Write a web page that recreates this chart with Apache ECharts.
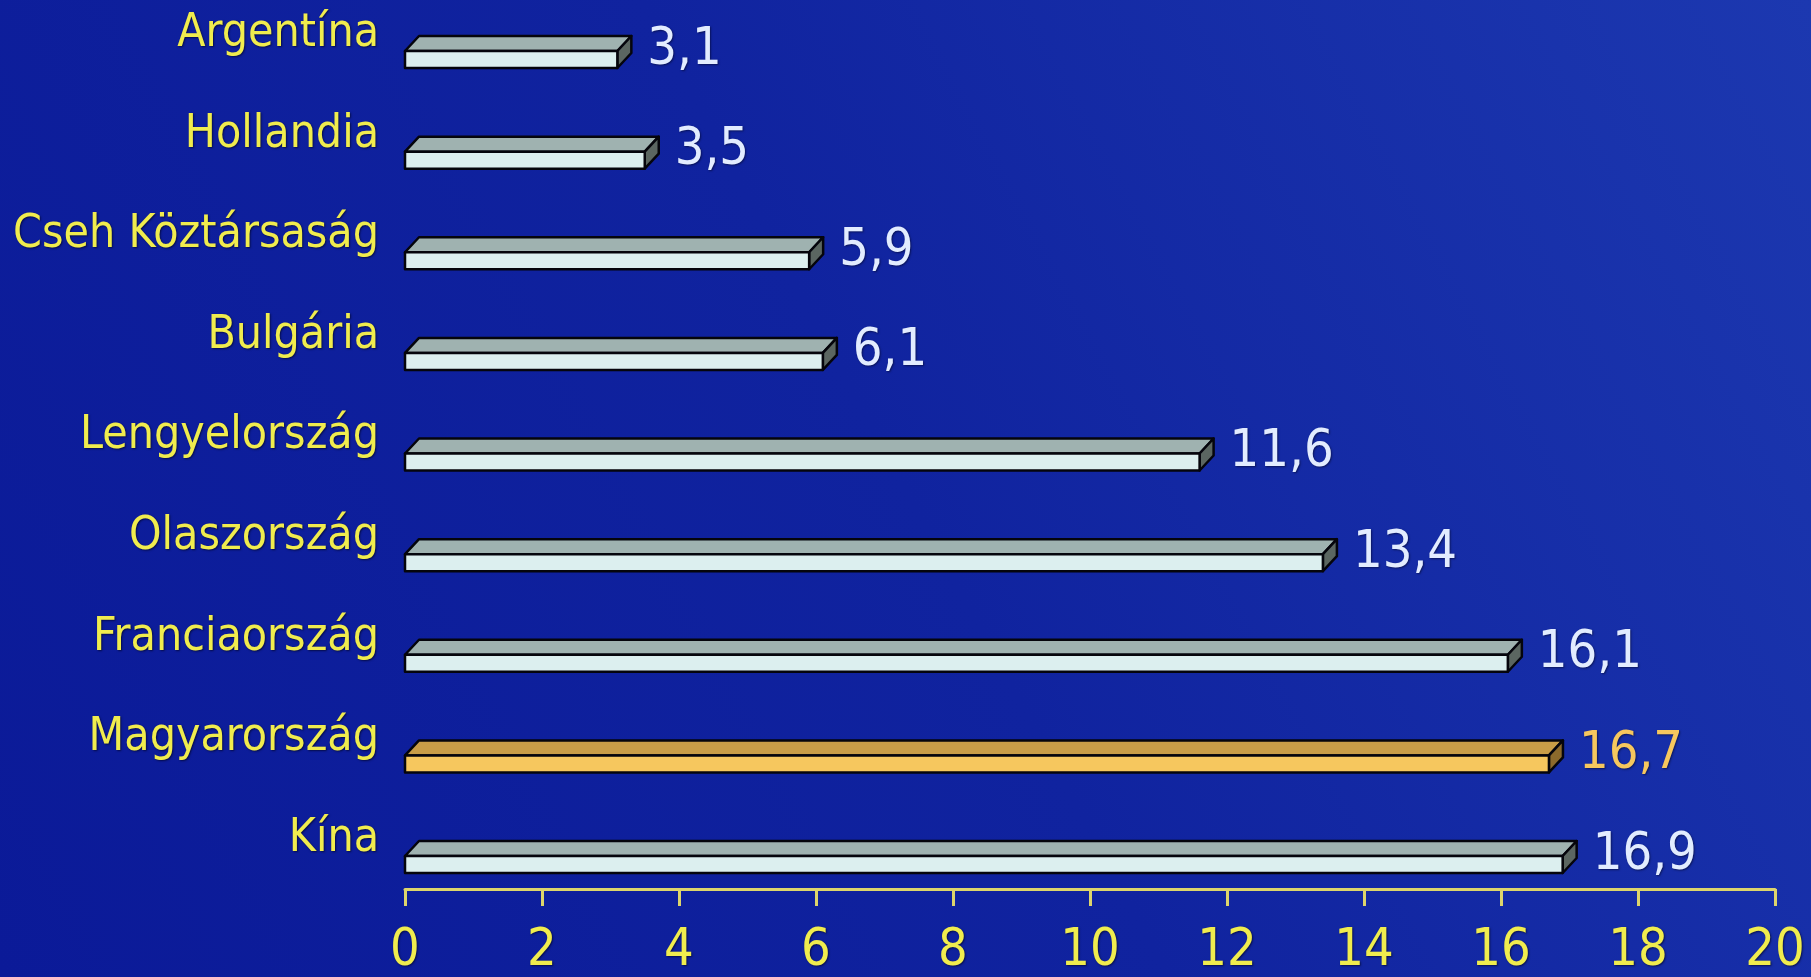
<!DOCTYPE html>
<html>
<head>
<meta charset="utf-8">
<script src="https://cdn.jsdelivr.net/npm/echarts@6/dist/echarts.min.js"></script>
<style>
html,body{margin:0;padding:0;width:100%;height:100%;overflow:hidden;}
#chart{width:1811px;height:977px;}
</style>
</head>
<body>
<div id="chart"></div>
<script>
// ---- data ----
const categories = ['Argentína','Hollandia','Cseh Köztársaság','Bulgária','Lengyelország','Olaszország','Franciaország','Magyarország','Kína'];
const values = [3.1, 3.5, 5.9, 6.1, 11.6, 13.4, 16.1, 16.7, 16.9];
const xTicks = [0, 2, 4, 6, 8, 10, 12, 14, 16, 18, 20];
const highlighted = 'Magyarország';

// ---- styles ----
const FONT = "'DejaVu Sans Condensed', 'DejaVu Sans', sans-serif";
const YELLOW = '#f0ec4e';
const normalFaces = {front:'#dcefef', top:'#9fb2b0', side:'#5b6661'};
const hiFaces = {front:'#f6c75e', top:'#c99d47', side:'#8c6a2c'};

const chart = echarts.init(document.getElementById('chart'));

function renderItem(params, api) {
  const v = api.value(0);
  const ci = api.value(1);
  const p0 = api.coord([0, ci]);
  const p1 = api.coord([v, ci]);
  const yc = p0[1];
  const x0 = p0[0], x1 = p1[0];
  const dx = 14, dy = 15;
  const fTop = yc + 17, fBot = yc + 34;
  const faces = categories[ci] === highlighted ? hiFaces : normalFaces;
  const stroke = {stroke:'#05050c', lineWidth:2.5, lineJoin:'round'};
  return {
    type:'group',
    children:[
      {type:'polygon', shape:{points:[[x0,fTop],[x1,fTop],[x1+dx,fTop-dy],[x0+dx,fTop-dy]]},
        style:Object.assign({fill:faces.top}, stroke)},
      {type:'polygon', shape:{points:[[x1,fTop],[x1+dx,fTop-dy],[x1+dx,fBot-dy],[x1,fBot]]},
        style:Object.assign({fill:faces.side}, stroke)},
      {type:'rect', shape:{x:x0, y:fTop, width:x1-x0, height:fBot-fTop},
        style:Object.assign({fill:faces.front}, stroke)},
      {type:'text', x:x1+30, y:yc+16,
        style:{text:v.toFixed(1).replace('.', ','), fill: categories[ci] === highlighted ? '#f6c75e' : '#e2ecff',
          font:'52px ' + FONT, verticalAlign:'middle', align:'left',
          textShadowColor:'rgba(0,0,20,0.5)', textShadowBlur:2, textShadowOffsetX:1, textShadowOffsetY:1}}
    ]
  };
}

const option = {
  backgroundColor: new echarts.graphic.LinearGradient(0, 1, 1, 0, [
    {offset:0, color:'#0b1a98'},
    {offset:0.5, color:'#10239f'},
    {offset:1, color:'#1c38b0'}
  ]),
  animation:false,
  grid:{left:405, right:36, top:34, bottom:137, containLabel:false},
  xAxis:{
    type:'value', min:xTicks[0], max:xTicks[xTicks.length-1], interval:xTicks[1]-xTicks[0],
    offset:50,
    axisLine:{show:true, lineStyle:{color:'#ddd56c', width:3}},
    axisTick:{show:true, length:17, lineStyle:{color:'#ddd56c', width:3}},
    splitLine:{show:false},
    axisLabel:{color:YELLOW, fontSize:52, fontFamily:FONT, margin:36,
      textShadowColor:'rgba(0,0,20,0.6)', textShadowBlur:2, textShadowOffsetX:1, textShadowOffsetY:1}
  },
  yAxis:{
    type:'category', data:categories, inverse:true, boundaryGap:false,
    axisLine:{show:false}, axisTick:{show:false}, splitLine:{show:false},
    axisLabel:{color:YELLOW, fontSize:46, fontFamily:FONT, margin:26,
      textShadowColor:'rgba(0,0,20,0.6)', textShadowBlur:2, textShadowOffsetX:1, textShadowOffsetY:1}
  },
  series:[{
    type:'custom',
    renderItem: renderItem,
    encode:{x:0, y:1},
    data: values.map((v, i) => [v, i]),
    clip:false
  }]
};
chart.setOption(option);
</script>
</body>
</html>
